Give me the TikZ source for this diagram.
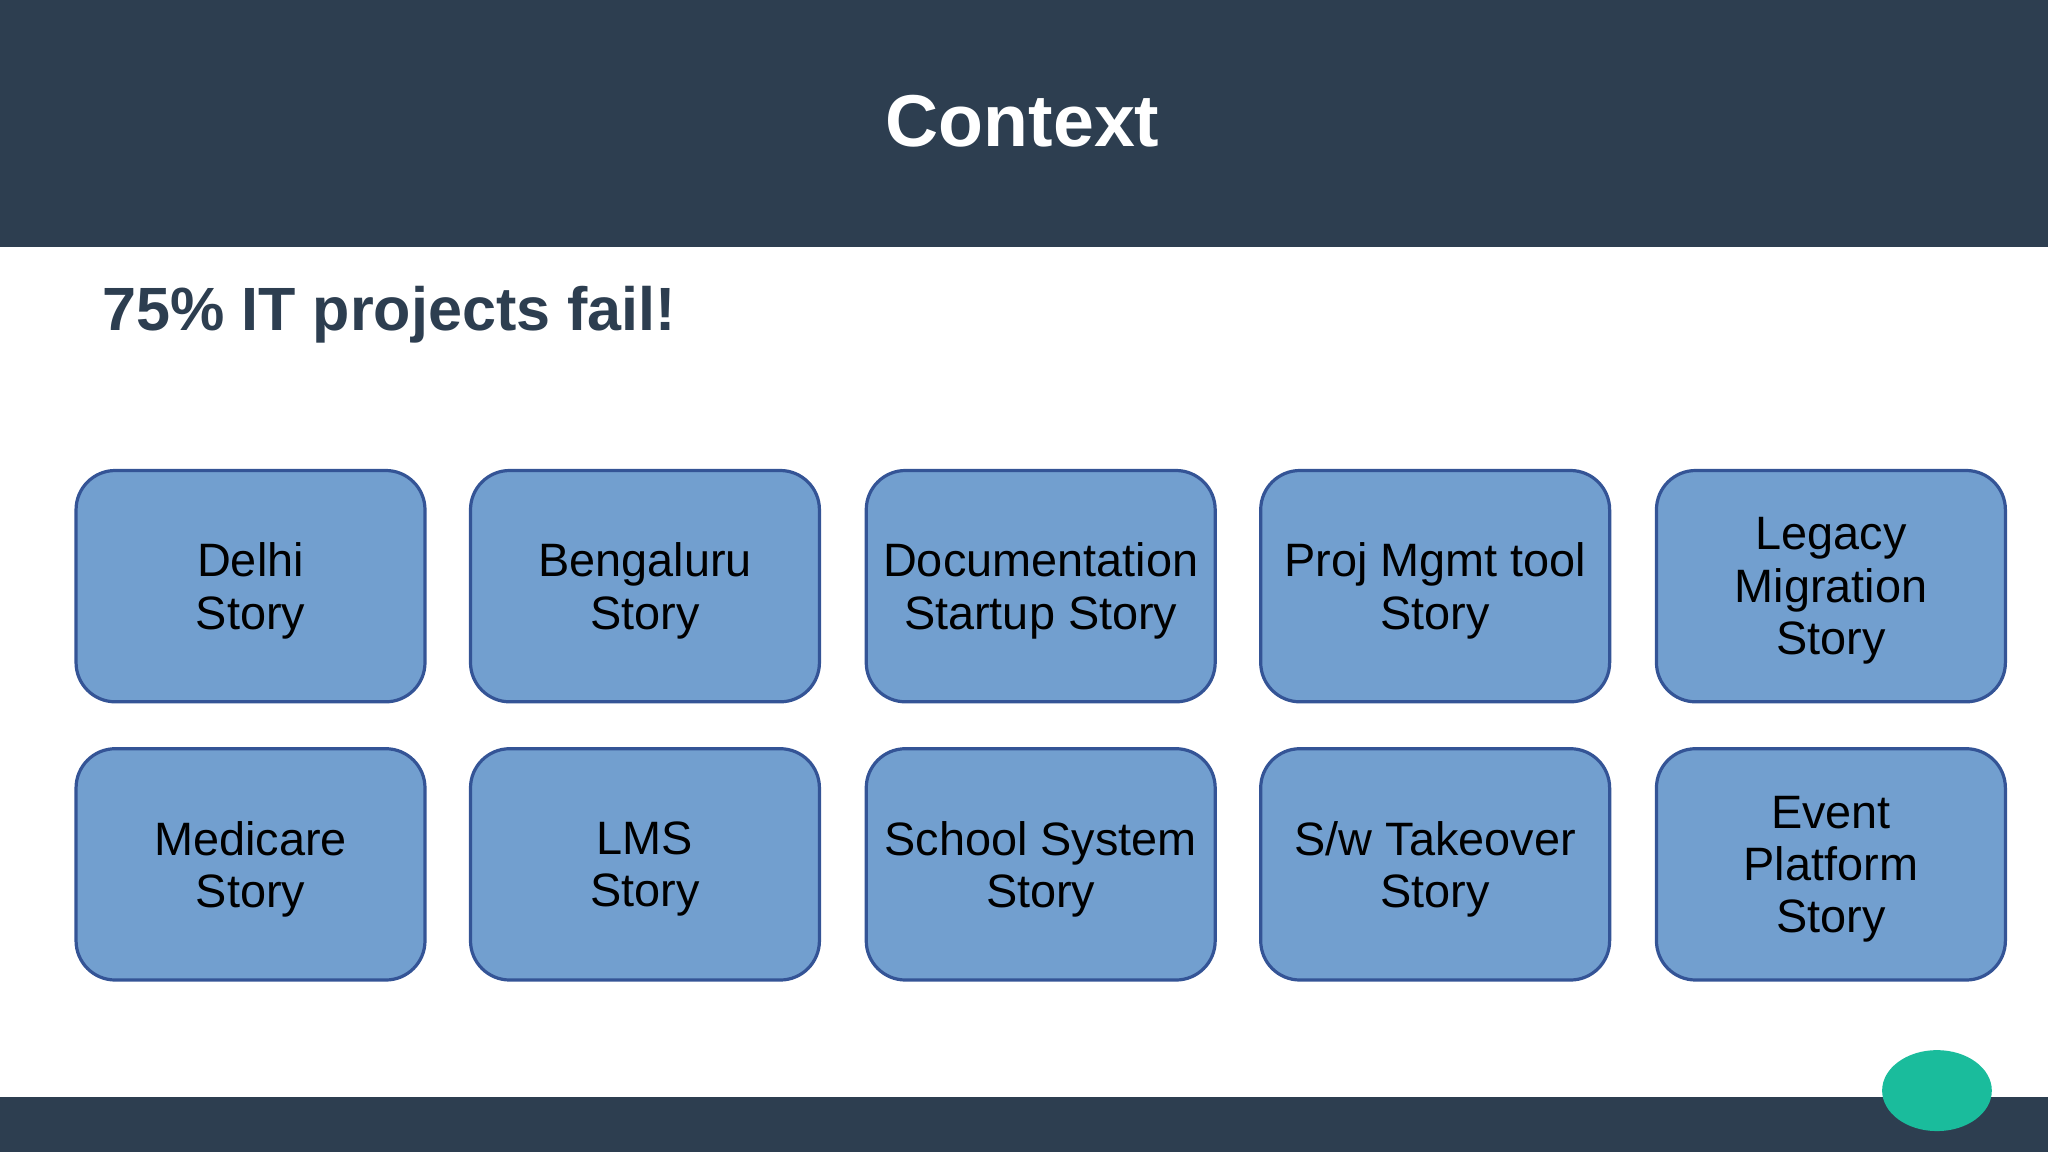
\documentclass[tikz,border=0pt]{standalone}
\usepackage{fontspec}
\setmainfont{Liberation Sans}
\begin{document}
\begin{tikzpicture}[x=0.01cm,y=-0.01cm,
  box/.style={draw=boxline,fill=boxfill,line width=0.7pt,rounded corners=0.3cm,minimum width=2.67cm,minimum height=1.77cm,anchor=north west,align=center,inner sep=0pt,text depth=-0.06cm,font=\fontsize{10.2}{11.4}\selectfont,text=black}]
\definecolor{dark}{RGB}{45,62,80}
\definecolor{boxfill}{RGB}{114,159,207}
\definecolor{boxline}{RGB}{52,84,150}
\definecolor{teal}{RGB}{26,188,156}
\useasboundingbox (0,0) rectangle (1568,882);
\fill[dark] (0,0) rectangle (1568,189);
\fill[dark] (0,840) rectangle (1568,882);
\node[font=\bfseries\fontsize{16}{19}\selectfont,text=white] (title) at (783,93) {Context};
\node[font=\bfseries\fontsize{13.3}{16}\selectfont,text=dark,anchor=west] (sub) at (66,241) {75\% IT projects fail!};
\node[box] (b1) at (57,359) {Delhi\\Story};
\node[box] (b2) at (359,359) {Bengaluru\\Story};
\node[box] (b3) at (662,359) {Documentation\\Startup Story};
\node[box] (b4) at (964,359) {Proj Mgmt tool\\Story};
\node[box] (b5) at (1267,359) {Legacy\\Migration\\Story};
\node[box] (b6) at (57,572) {Medicare\\Story};
\node[box] (b7) at (359,572) {LMS\\Story};
\node[box] (b8) at (662,572) {School System\\Story};
\node[box] (b9) at (964,572) {S/w Takeover\\Story};
\node[box] (b10) at (1267,572) {Event\\Platform\\Story};
\fill[teal] (1483,835) ellipse [x radius=42, y radius=31];
\end{tikzpicture}
\end{document}
